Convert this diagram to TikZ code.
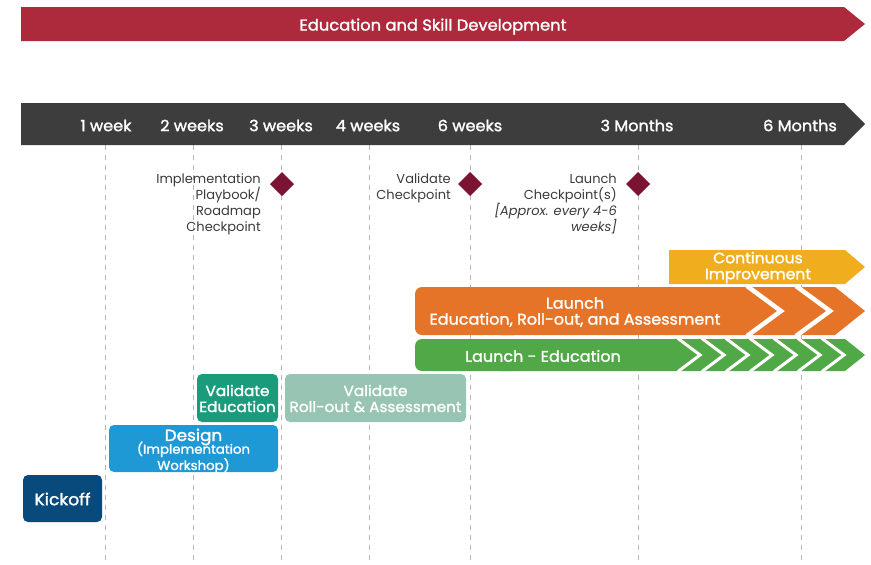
\documentclass[tikz,border=0pt]{standalone}
\usepackage{fontspec}
\setmainfont{Poppins}
\newfontfamily\semib{Poppins}[FakeBold=1.6,FakeStretch=1.04]
\definecolor{bannerred}{HTML}{AC2A3C}
\definecolor{bardark}{HTML}{3D3D3D}
\definecolor{diam}{HTML}{7B1333}
\definecolor{yell}{HTML}{F0AE1F}
\definecolor{oran}{HTML}{E57428}
\definecolor{gree}{HTML}{51A847}
\definecolor{teal1}{HTML}{1A9B7C}
\definecolor{teal2}{HTML}{97C4B3}
\definecolor{blue1}{HTML}{1F99D5}
\definecolor{navy1}{HTML}{074A7B}
\definecolor{txtgray}{HTML}{3A3A3A}
\definecolor{dashgray}{HTML}{B5B5B5}
\tikzset{
  bartext/.style={text=white, font=\semib\fontsize{15.5}{17}\selectfont, inner sep=0pt},
  boxtext/.style={text=white, font=\semib\fontsize{14.7}{16}\selectfont, align=center, inner sep=0pt},
  cktext/.style={text=txtgray, font=\fontsize{13}{16}\selectfont, align=right, inner sep=0pt, anchor=north east},
  gridline/.style={dashgray, line width=0.9pt, dash pattern=on 5pt off 5pt},
  diamondmark/.style={fill=diam},
  chevw/.style={white, line width=4.5pt, line join=miter},
  chevg/.style={white, line width=3pt, line join=miter},
}
\begin{document}
\begin{tikzpicture}[x=1pt,y=-1pt]
\useasboundingbox (0,0) rectangle (871,565);
% grid lines
\foreach \n/\x in {a/105,b/193,c/281,d/369,e/470,f/638,g/801}{
  \coordinate (top\n) at (\x,145);
  \coordinate (bot\n) at (\x,565);
  \draw[gridline] (top\n) -- (bot\n);
}
% top banner
\fill[bannerred] (21,7) -- (844,7) -- (865,24) -- (844,41) -- (21,41) -- cycle;
\node[bartext, font=\semib\fontsize{15.7}{17}\selectfont, anchor=base] (banner) at (433,30.5) {Education and Skill Development};
% timeline bar
\fill[bardark] (21,103) -- (844,103) -- (865,124) -- (844,145) -- (21,145) -- cycle;
\node[bartext] (w1) at (106,125.5) {1 week};
\node[bartext] (w2) at (192,125.5) {2 weeks};
\node[bartext] (w3) at (281,125.5) {3 weeks};
\node[bartext] (w4) at (368,125.5) {4 weeks};
\node[bartext] (w6) at (470,125.5) {6 weeks};
\node[bartext] (m3) at (637,125.5) {3 Months};
\node[bartext] (m6) at (800,125.5) {6 Months};
% diamonds
\foreach \n/\x in {d1/282,d2/470,d3/638}{
  \fill[diamondmark] (\x,172) -- (\x+12,184) -- (\x,196) -- (\x-12,184) -- cycle;
}
\node[cktext] (ck1) at (261,173.5) {Implementation\\Playbook/\\Roadmap\\Checkpoint};
\node[cktext] (ck2) at (451,173.5) {Validate\\Checkpoint};
\node[cktext] (ck3) at (617,173.5) {Launch\\Checkpoint(s)\\\textit{[Approx. every 4-6}\\\textit{weeks]}};
% continuous improvement
\fill[yell] (669,250) -- (845,250) -- (865,267) -- (845,284) -- (669,284) -- cycle;
\node[boxtext, font=\semib\fontsize{15}{16}\selectfont] (ci) at (758,267.5) {Continuous\\Improvement};
% orange launch
\fill[oran, rounded corners=7pt] (415,287) rectangle (520,335);
\fill[oran] (500,287) -- (835,287) -- (865,311) -- (835,335) -- (500,335) -- cycle;
\draw[chevw] (747,286) -- (781,311) -- (747,336);
\draw[chevw] (796,286) -- (830,311) -- (796,336);
\node[boxtext, font=\semib\fontsize{15.4}{16}\selectfont] (launch) at (575,312) {Launch\\Education, Roll-out, and Assessment};
% green launch education
\fill[gree, rounded corners=7pt] (415,339) rectangle (520,371);
\fill[gree] (500,339) -- (845,339) -- (865,355) -- (845,371) -- (500,371) -- cycle;
\foreach \k in {0,...,6}{
  \draw[chevg] (678+24*\k,338.5) -- (700+24*\k,355) -- (678+24*\k,371.5);
}
\node[boxtext, font=\semib\fontsize{15.4}{16}\selectfont] (le) at (543,356) {Launch - Education};
% validate education
\fill[teal1, rounded corners=5pt] (197,374) rectangle (278,422);
\node[boxtext] (ve) at (237.5,398.5) {Validate\\Education};
% validate roll-out
\fill[teal2, rounded corners=5pt] (285,374) rectangle (466,422);
\node[boxtext] (vr) at (375.5,398.5) {Validate\\Roll-out \& Assessment};
% design
\fill[blue1, rounded corners=5pt] (109,425) rectangle (278,472);
\node[boxtext, font=\semib\fontsize{16.2}{17}\selectfont] (design) at (193.5,437) {Design};
\node[boxtext, font=\semib\fontsize{12.8}{13}\selectfont] (dsub) at (193.5,457.5) {(Implementation\\Workshop)};
% kickoff
\fill[navy1, rounded corners=5pt] (23,475) rectangle (102,522);
\node[boxtext, font=\semib\fontsize{16.5}{17}\selectfont] (kick) at (62.5,499) {Kickoff};
\end{tikzpicture}
\end{document}
